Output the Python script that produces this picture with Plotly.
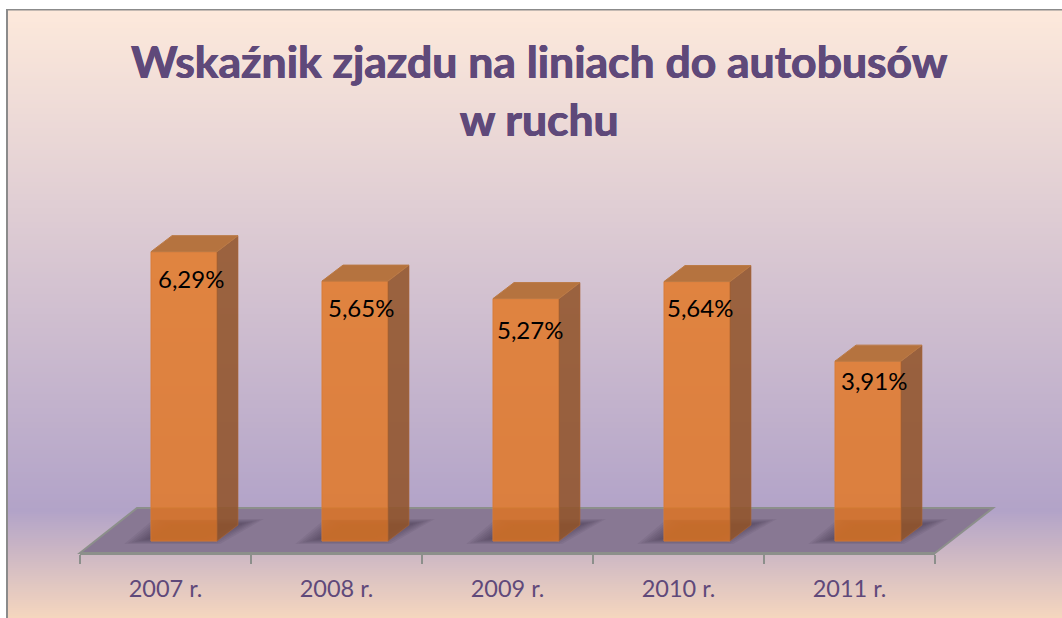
import plotly.graph_objects as go

years = ["2007 r.", "2008 r.", "2009 r.", "2010 r.", "2011 r."]
rates = [6.29, 5.65, 5.27, 5.64, 3.91]
labels = ["6,29%", "5,65%", "5,27%", "5,64%", "3,91%"]
title_text = "Wskaźnik zjazdu na liniach do autobusów<br>w ruchu"

W, H = 1062, 618
L, R, T, B = 80, 935, 150, 553
ZERO_PX = 541
PX_PER_UNIT = 46
CAT_PX = (R - L) / len(years)
BAR_OFFSET = -14.5 / CAT_PX
BAR_WIDTH = 66 / CAT_PX
DX = 21 / CAT_PX
DY = 16 / PX_PER_UNIT
LABEL_NUDGE_X = [25.5, 24.5, 22.5, 21, 24.5]
LABEL_NUDGE_Y = [-27, -26, -31, -26, -19]
TITLE_COLOR = "#5f497a"


def px(x):
    return (x - L) / (R - L)


def py(y):
    return (B - y) / (B - T)


def lerp(a, b, t):
    return tuple(round(a[i] + (b[i] - a[i]) * t) for i in range(3))


shapes = []
# page background gradient (each band overlaps the next to avoid seams)
top_c, mid_c, bot_c = (253, 233, 219), (178, 163, 200), (246, 215, 190)
MID_Y = 510
STEP = 2
for y in range(10, H, STEP):
    if y < MID_Y:
        c = lerp(top_c, mid_c, (y - 10) / (MID_Y - 10))
    else:
        c = lerp(mid_c, bot_c, (y - MID_Y) / (H - MID_Y))
    shapes.append(dict(type="rect", xref="paper", yref="paper", layer="below",
                       x0=px(8), x1=px(W), y0=py(H), y1=py(y),
                       fillcolor=f"rgb{c}", line_width=0))
for x0, y0, x1, y1 in [(6, 9, W, 10.5), (6, 9, 8, H)]:
    shapes.append(dict(type="rect", xref="paper", yref="paper", layer="below",
                       x0=px(x0), x1=px(x1), y0=py(y1), y1=py(y0),
                       fillcolor="#8b8b8b", line_width=0))


def paper_poly(points, **kw):
    d = "M" + " L".join(f"{px(a):.5f},{py(b):.5f}" for a, b in points) + " Z"
    return dict(type="path", xref="paper", yref="paper", layer="below", path=d, **kw)


# floor
shapes.append(paper_poly([(80, 553), (935, 553), (993, 508), (137, 508)],
                         fillcolor="#887893", line=dict(color="#8c8f8b", width=2)))
# soft shadows under each bar
for i in range(len(years)):
    left = L + CAT_PX * i + CAT_PX / 2 - 14.5
    for g in range(9):
        s = 3 - g * 2.2
        shapes.append(paper_poly(
            [(left - 22 - s * 1.6, 543 + s / 3), (left + 66 + s, 543 + s / 3),
             (left + 108 + s * 1.6, 520 - s / 3), (left + 6 - s, 520 - s / 3)],
            fillcolor="rgba(55,42,65,0.085)", line_width=0))

# 3D faces derived from the values
for i, v in enumerate(rates):
    x0 = i + BAR_OFFSET
    x1 = x0 + BAR_WIDTH
    side = f"M{x1},0 L{x1 + DX},{DY} L{x1 + DX},{v + DY} L{x1},{v} Z"
    top = f"M{x0},{v} L{x1},{v} L{x1 + DX},{v + DY} L{x0 + DX},{v + DY} Z"
    shapes.append(dict(type="path", xref="x", yref="y", layer="above", path=side,
                       fillcolor="rgba(146,84,42,0.88)", line=dict(color="rgba(170,100,55,0.6)", width=1)))
    shapes.append(dict(type="path", xref="x", yref="y", layer="above", path=top,
                       fillcolor="#b5733f", line=dict(color="#bb7a45", width=1)))
    # darker lower part of the front face, where the shadow shows through
    shapes.append(dict(type="rect", xref="x", yref="y", layer="above",
                       x0=x0, x1=x1, y0=0, y1=21 / PX_PER_UNIT,
                       fillcolor="rgba(120,55,0,0.13)", line_width=0))
    shapes.append(dict(type="rect", xref="x", yref="y", layer="above",
                       x0=x0, x1=x1, y0=21 / PX_PER_UNIT, y1=33 / PX_PER_UNIT,
                       fillcolor="rgba(120,55,0,0.06)", line_width=0))

fig = go.Figure(go.Bar(
    x=years, y=rates, width=BAR_WIDTH, offset=BAR_OFFSET,
    marker=dict(color="rgba(225,122,42,0.87)", line=dict(color="#d87c38", width=1)),
    hoverinfo="skip",
))

annotations = [
    dict(x=c, y=v, xref="x", yref="y", text=t, showarrow=False, xshift=nx, yshift=ny,
         font=dict(family="Lato, Carlito, sans-serif", size=24, color="black"))
    for c, v, t, nx, ny in zip(years, rates, labels, LABEL_NUDGE_X, LABEL_NUDGE_Y)
]
annotations.append(dict(
    xref="paper", yref="paper", x=px(539), y=py(89), text=title_text, showarrow=False,
    font=dict(family="Lato, Carlito, sans-serif", size=44.5, color=TITLE_COLOR, weight="bold",
              shadow=f"0.5px 0 0 {TITLE_COLOR}, -0.5px 0 0 {TITLE_COLOR}"),
    xanchor="center", yanchor="middle", align="center"))

fig.update_layout(
    width=W, height=H, autosize=False,
    margin=dict(l=L, r=W - R, t=T, b=H - B, pad=0),
    paper_bgcolor="white", plot_bgcolor="rgba(0,0,0,0)",
    showlegend=False, shapes=shapes, annotations=annotations,
    xaxis=dict(type="category", categoryorder="array", categoryarray=years,
               range=[-0.5, len(years) - 0.5], tickson="boundaries", ticks="outside",
               ticklen=9, tickwidth=2, tickcolor="#8c8f8b", showline=True,
               linecolor="#8c8f8b", linewidth=2, showgrid=False, zeroline=False,
               ticklabelstandoff=14,
               tickfont=dict(family="Lato, Carlito, sans-serif", size=23.5, color="#5f497a")),
    yaxis=dict(range=[(ZERO_PX - B) / PX_PER_UNIT, (ZERO_PX - T) / PX_PER_UNIT],
               visible=False, showgrid=False, zeroline=False),
)

fig.write_html("out.html", post_script="document.body.style.margin='0';",
               config={"displayModeBar": False})
